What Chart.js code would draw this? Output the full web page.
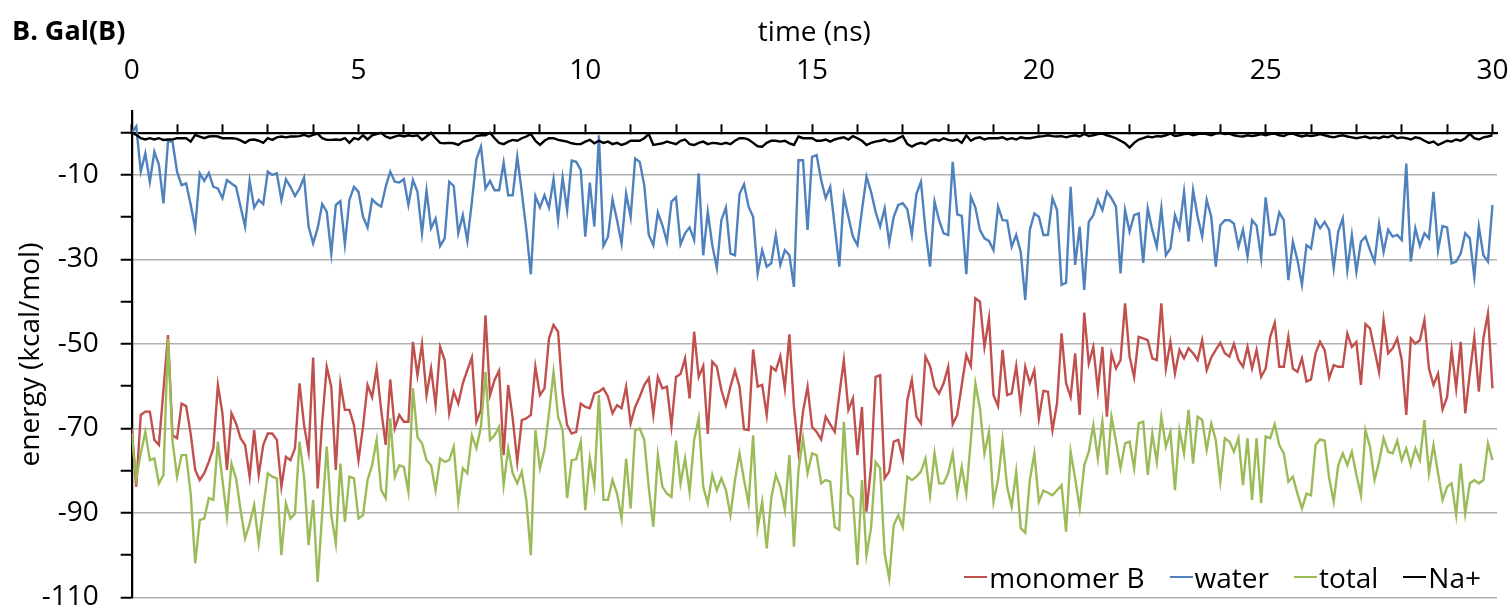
<!DOCTYPE html>
<html>
<head>
<meta charset="utf-8">
<script src="https://cdn.jsdelivr.net/npm/chart.js@4.4.1/dist/chart.umd.min.js"></script>
<style>
  html, body { margin: 0; padding: 0; background: #fff; }
  #box { position: relative; width: 1512px; height: 609px; font-family: 'Open Sans', sans-serif; color: #000; }
  #panel { position: absolute; left: 12px; top: 16px; font-size: 27px; font-weight: bold; line-height: 27px; }
  #legend { position: absolute; right: 31px; top: 560px; display: flex; font-size: 28px; line-height: 34px; background: #fff; }
  #legend .item { display: flex; align-items: center; margin-left: 25px; }
  #legend .swatch { display: inline-block; width: 23px; height: 2.5px; margin-right: 2px; }
</style>
</head>
<body>
<div id="box">
  <canvas id="myChart"></canvas>
  <div id="panel">B. Gal(B)</div>
  <div id="legend"></div>
</div>
<script>
// time axis, one point every 0.1 ns
const times = [];
for (let i = 0; i <= 300; i++) times.push(i / 10);

const monomerB = [
  -70, -83.8, -66.8, -66, -66, -72.7, -73.9, -60.9, -47.9, -71.6,
  -72.3, -64.1, -64.7, -71.2, -79.8, -82.2, -80.6, -77.9, -74.7, -59.7,
  -66.4, -79.8, -66.4, -68.8, -72.3, -73.9, -81.4, -70.4, -81, -73.9,
  -71.2, -71.2, -72.7, -83.8, -76.7, -77.5, -74.7, -59.3, -69.2, -75.5,
  -53.2, -84.2, -68.4, -55.4, -60.1, -79.8, -59.3, -65.6, -65.6, -69.2,
  -77.5, -69.6, -59.7, -62.6, -55.8, -65.6, -73.9, -58.4, -70, -66.8,
  -68.4, -68.4, -49.5, -57.4, -50, -62.1, -55.8, -64.5, -50.7, -53.8,
  -66.4, -61.3, -64.1, -59.3, -56.2, -53.2, -68.4, -65.6, -43.2, -62.1,
  -58.5, -56.3, -76.3, -59.7, -67.6, -77.9, -68, -67.6, -66.8, -55.4,
  -62.1, -60.5, -48.7, -45.5, -47.1, -61.7, -69.2, -71.2, -70.8, -64.1,
  -64.9, -65.2, -61.7, -61.3, -60.5, -62.5, -66.4, -64.5, -65.2, -60.1,
  -68.8, -64.9, -62.5, -59.7, -58.1, -66.8, -57.8, -60.5, -60.1, -69.4,
  -57.8, -57.1, -53.4, -62.9, -47.1, -57.8, -55.2, -71.3, -54.2, -55.4,
  -60.9, -64.5, -60.1, -56.3, -60.1, -70.2, -70.4, -51.3, -60.1, -59.7,
  -66.8, -55.4, -56.3, -52.9, -60.5, -47.7, -64.9, -75.5, -66, -60.1,
  -69.6, -70.8, -72.6, -67.2, -69, -70.8, -62, -53.8, -65.6, -62.9,
  -76.3, -64.9, -89.7, -79.1, -57.8, -57.4, -81.8, -80.2, -73.1, -72.7,
  -77.1, -63.3, -58.5, -67.2, -68.8, -53, -55.2, -60.1, -61.7, -59.3,
  -55.4, -69, -66.8, -59.7, -52.6, -55.2, -39.2, -40, -50.7, -43.9,
  -62.1, -64.7, -51.4, -62.1, -61.7, -55.2, -65, -55.4, -59.3, -56.2,
  -67.6, -61.1, -61.3, -70.4, -64.1, -47.5, -59.3, -62.5, -52.2, -66.8,
  -42.6, -54.6, -50.7, -60.9, -50.7, -67.2, -52.2, -55.8, -53.8, -40.4,
  -53, -57.8, -48.3, -48.7, -49.1, -53.4, -53.8, -40.4, -55.8, -49.5,
  -57, -51.4, -53.4, -51, -52.2, -53.8, -49.1, -56.2, -53.2, -51.4,
  -49.7, -52.2, -53, -50, -53.8, -55.4, -50.7, -55.8, -51.4, -57.8,
  -55.8, -48.3, -45, -55.4, -55.4, -48.3, -55.8, -56.6, -53.4, -58.9,
  -58.4, -52.2, -49.5, -51.4, -58.1, -55, -55.4, -55.4, -47.5, -50.7,
  -49.5, -59.7, -45.3, -46.3, -51.4, -56.6, -44.3, -52.2, -51, -48.7,
  -53.8, -66.8, -48.7, -49.9, -49.1, -44.3, -55.8, -59.7, -57, -65.5,
  -62.6, -51.4, -60.5, -49.5, -66.4, -57, -48.4, -61.3, -48.7, -42.8,
  -60.5
];

const water = [
  0, 1.5, -9.2, -4.9, -11.6, -4.5, -7.6, -16.7, -2.1, -2.1,
  -9.2, -12.4, -12, -17, -22.6, -9.6, -11.4, -9.5, -12.8, -13.2,
  -15.5, -11.2, -12, -12.8, -17.5, -22.2, -11.4, -17.7, -15.9, -16.9,
  -9.2, -10, -9.6, -15.9, -11, -12.8, -15, -13.2, -10.6, -22.2,
  -26.2, -22.6, -16.9, -18.7, -28.6, -17.1, -16.2, -26.4, -15.9, -12.8,
  -14, -19.9, -22.4, -15.8, -16.8, -17.5, -12.8, -9.2, -11.6, -11.8,
  -11, -17.1, -11.2, -14, -23.8, -13.7, -22.6, -20.3, -26.8, -25,
  -11.6, -12.6, -23.8, -19.5, -25.6, -16.3, -6.3, -3.3, -13.2, -11.4,
  -13.6, -13.6, -7.1, -14.8, -14.8, -5.7, -14, -23, -33.5, -15,
  -17.7, -14.8, -17.7, -11, -20.7, -10.6, -18.3, -6.6, -6.9, -8.8,
  -24.6, -11.8, -22.2, -0.6, -26.8, -24.6, -15.8, -20.7, -26.2, -14.4,
  -20, -6.1, -6.9, -12.4, -24.2, -26.6, -18.9, -21.9, -25.8, -16.3,
  -15.3, -26.4, -23.8, -22.4, -25.4, -9.6, -29, -18.7, -26.6, -32,
  -20.7, -17.7, -28.6, -29, -14.5, -12.2, -17.5, -19.9, -33.3, -27.8,
  -31.7, -30.9, -24.2, -31.3, -27.8, -29, -36.5, -6.5, -6.5, -23,
  -5.7, -5.3, -11.2, -15.5, -12.8, -22.2, -31.7, -15, -19.9, -24.6,
  -26.6, -18.3, -10.4, -14, -18.7, -22.2, -17.9, -26, -19.9, -17.1,
  -16.7, -18.1, -24.2, -14.5, -11.6, -23, -31.7, -16.3, -20.7, -23.8,
  -24.2, -6.9, -19.3, -19.7, -33.5, -15.1, -17.7, -23, -25, -25.6,
  -27.8, -17.5, -20.7, -20.8, -27, -24.2, -28.2, -39.6, -23, -19.1,
  -19.9, -24.2, -24.2, -15.5, -18.3, -36, -35.5, -12.8, -31.3, -22.2,
  -37.2, -21.1, -19.5, -15.9, -18.3, -14, -15.5, -17.5, -33.3, -18.3,
  -23.4, -19.5, -19.1, -30.8, -17.9, -23, -27, -17.9, -29, -27.4,
  -19.5, -22.6, -14, -25.8, -13.6, -19.9, -24.6, -15.9, -19.9, -31.7,
  -21.9, -20.7, -20.7, -21.5, -27, -23, -29.3, -20.7, -22, -29.7,
  -15.3, -24.2, -24, -18.9, -20.7, -34.9, -25.8, -30.1, -36, -26.6,
  -27.4, -20.7, -22.6, -21.1, -23, -32.1, -23.4, -20.3, -32.5, -24.2,
  -32.9, -25.8, -24.6, -27.8, -30.5, -21.6, -28.2, -23, -24.6, -24.2,
  -25.4, -7.3, -30.5, -22.6, -26.8, -23.8, -25, -14, -27.8, -22.1,
  -22.4, -30.9, -30.5, -28.6, -23.8, -25, -34.1, -22.2, -29, -30.5,
  -17.1
];

const total = [
  -71.2, -81.8, -75.9, -70.8, -77.5, -77.1, -83, -81, -48.7, -73.1,
  -81.4, -76.3, -76.3, -85.4, -101.9, -91.7, -91.3, -86.5, -86.9, -73.1,
  -82.2, -90.9, -78.3, -81.8, -89.3, -96, -92.5, -88.1, -97.2, -88.9,
  -80.6, -81.4, -81.8, -100, -87.7, -91.3, -90.1, -73.1, -81.4, -97.6,
  -86.9, -106.3, -90.1, -74.3, -90.5, -97.2, -78.3, -92.1, -81.4, -81.8,
  -91.3, -90.5, -82.2, -78.7, -72.7, -84.6, -86.5, -67.6, -81.4, -78.7,
  -79.1, -85, -60.5, -72, -73.5, -77.5, -78.7, -84.6, -77.1, -77.9,
  -77.5, -74.3, -87.3, -79.4, -80.6, -71.6, -74.7, -69.6, -56.6, -72.7,
  -71.6, -69.6, -83.4, -74.7, -80.6, -83, -80.2, -86.9, -100, -70.4,
  -79.4, -75.1, -66.4, -56.6, -67.2, -70.4, -86.5, -77.5, -77.3, -73.1,
  -89.3, -77.1, -83.4, -62.1, -86.9, -86.9, -82.2, -85.4, -91.3, -77.1,
  -88.9, -70.4, -70, -72.7, -84, -93.3, -76.3, -83.8, -85.4, -86.2,
  -72.9, -83, -77.1, -85, -72.7, -67.6, -83.8, -87.7, -81, -84.6,
  -81.8, -84.6, -90.5, -82.2, -75.9, -82.2, -87.7, -71.6, -93.6, -87.3,
  -98.4, -86.5, -81, -83.8, -89.3, -76.3, -98, -79.8, -72.3, -80.6,
  -75.9, -76.3, -83, -82.2, -82.6, -93.3, -94, -68.4, -85.4, -86.5,
  -102.3, -82.2, -100, -93.6, -77.9, -79.4, -99.6, -105.5, -92.9, -90.5,
  -93.3, -81.4, -82.2, -81.4, -80.2, -77.1, -85.8, -75.9, -83, -83,
  -80.6, -75.9, -85.4, -79.1, -85.4, -72.7, -59.3, -65.2, -75.9, -70.8,
  -87.3, -82.2, -72.7, -83.8, -88.5, -80.2, -93.6, -94.7, -82.2, -75.9,
  -87.3, -84.7, -85.2, -85.8, -84.6, -83.4, -94.4, -75.5, -81.8, -88.9,
  -78.7, -75.5, -69.2, -77.1, -68.4, -81, -67.2, -73.1, -79.4, -73.5,
  -73.1, -79.4, -68.8, -68.4, -81, -71.2, -77.9, -67.2, -74.3, -70.8,
  -84.6, -70.4, -75.9, -65.6, -78.3, -67.2, -68, -75.1, -68.8, -72.7,
  -82.6, -72.3, -73.1, -75.5, -72.3, -83.4, -72.3, -86.9, -72.3, -87.7,
  -71.9, -72.3, -69, -73.9, -75.9, -82.6, -81.4, -85.4, -88.9, -85.4,
  -85.8, -73.9, -72.6, -72.9, -81.8, -87.3, -78.7, -75.9, -78.7, -75.5,
  -81, -85.8, -70.4, -74.3, -82.2, -77.9, -72.3, -75.5, -75.9, -72.9,
  -77.5, -74.7, -78.7, -74.7, -77.5, -68, -80.6, -73.9, -80.6, -86.9,
  -83.8, -83, -90.5, -78.3, -90.1, -83, -82.2, -83, -82.2, -73.5,
  -77.5
];

const sodium = [
  0, -0.5, -1.3, -1.6, -1.3, -1.6, -1.3, -1.7, -1.6, -1.6,
  -1.3, -1.3, -1.3, -2.1, -0.5, -0.9, -1.3, -0.9, -0.8, -0.9,
  -1.3, -1.3, -1.3, -1.4, -1.8, -2.4, -1.7, -1.6, -1.9, -2.4,
  -1.3, -1.7, -1.1, -0.9, -1.1, -0.9, -0.9, -0.8, -0.5, -0.9,
  -0.5, -0.2, -1.3, -1.7, -1.7, -1.6, -1.7, -1.3, -2.4, -1.3,
  -1.6, -0.6, -1.6, -0.6, -0.3, 0, -0.9, -1.3, -0.9, -0.6,
  -0.9, -0.6, -0.8, -0.6, -1.7, -0.9, 0, -1.3, -2.4, -2.5,
  -2.4, -2.5, -2.9, -2.1, -1.9, -1.6, -0.8, -0.6, -0.6, 0,
  -1.3, -2.4, -2.7, -2.1, -1.7, -1.9, -1.3, -0.9, -0.3, -1.9,
  -2.9, -1.9, -1.3, -1.3, -1.7, -1.9, -2.1, -2.5, -2.7, -2.7,
  -2.1, -1.7, -2.5, -1.9, -2.4, -2.1, -2.7, -2.4, -2.9, -2.5,
  -1.9, -1.9, -1.9, -1.3, -0.3, -2.9, -2.7, -2.5, -2.1, -2.4,
  -2.7, -1.9, -1.6, -2.7, -2.9, -2.4, -2.1, -2.7, -2.4, -2.5,
  -2.7, -2.4, -2.7, -1.9, -1.3, -1.3, -1.6, -2.4, -3.2, -3.3,
  -2.4, -1.9, -1.9, -2.1, -1.9, -2.5, -2.9, -0.9, -1.3, -1.3,
  -1.3, -1.9, -1.9, -1.6, -2.1, -1.6, -1.3, -1.1, -1.6, -0.8,
  -1.3, -1.9, -2.9, -2.4, -2.1, -1.9, -1.6, -2.1, -1.9, -1.3,
  -0.8, -2.7, -3.3, -2.7, -2.4, -2.7, -1.9, -1.6, -1.9, -1.3,
  -1.7, -1.9, -1.6, -2.4, -0.6, -1.9, -1.3, -1.1, -1.6, -1.3,
  -1.3, -1.3, -1.1, -1.6, -1.3, -1.6, -1.1, -1.3, -1.3, -1.1,
  -0.9, -0.8, -0.6, -0.8, -0.9, -0.8, -1.1, -0.8, -0.6, -0.9,
  -0.3, -0.8, -0.6, -0.3, -0.2, -0.6, -0.9, -1.3, -1.9, -2.5,
  -3.5, -2.4, -1.6, -1.3, -0.9, -1.1, -0.8, -0.9, -0.6, -0.2,
  -0.8, -0.6, -0.3, -0.2, -0.6, -0.3, -0.2, -0.3, -0.6, -0.2,
  0, -0.3, -0.2, -0.6, -0.8, -0.9, -0.6, -0.8, -0.6, -0.3,
  -0.6, -0.3, -0.2, -0.6, -0.8, -0.3, -0.2, -0.6, -0.9, -0.6,
  -0.8, -0.6, -0.3, -0.6, -0.9, -1.1, -0.8, -0.6, -0.9, -1.1,
  -1.3, -1.1, -0.9, -1.3, -1.1, -1.3, -0.9, -1.1, -0.6, -1.3,
  -1.1, -1.3, -1.6, -1.1, -1.3, -1.9, -2.4, -2.1, -2.9, -2.4,
  -1.9, -2.1, -1.6, -1.9, -1.3, -0.3, -1.3, -1.6, -1.1, -0.9,
  -0.6
];

const seriesNames = ['monomer B', 'water', 'total', 'Na+'];
const seriesColors = ['#c0504d', '#4f81bd', '#9bbb59', '#000000'];
const xTicks = [];
for (let v = 0; v <= 30; v++) xTicks.push(v);
const yTicks = [-110, -100, -90, -80, -70, -60, -50, -40, -30, -20, -10, 0];
const yLabelled = [-10, -30, -50, -70, -90, -110];

Chart.defaults.font.family = "'Open Sans', sans-serif";
Chart.defaults.font.size = 28;
Chart.defaults.color = '#000';

const config = {
  type: 'line',
  data: {
    labels: times,
    datasets: [monomerB, water, total, sodium].map((values, k) => ({
      label: seriesNames[k],
      data: values,
      borderColor: seriesColors[k],
      backgroundColor: seriesColors[k],
      borderWidth: 2.4,
      pointRadius: 0,
      tension: 0,
      order: 4 - k
    }))
  },
  options: {
    responsive: true,
    maintainAspectRatio: false,
    animation: false,
    layout: { padding: { left: 0, top: 0, right: 15, bottom: 11.5 } },
    plugins: {
      legend: { display: false },
      tooltip: { enabled: false }
    },
    scales: {
      // labels and title of the time axis
      x: {
        type: 'linear',
        position: 'top',
        min: 0,
        max: 30.1,
        afterBuildTicks: (scale) => {
          scale.ticks = xTicks.map(v => ({ value: v }));
        },
        afterFit: (scale) => {
          scale.height = 111.6;
          scale.paddingLeft = 0;
          scale.paddingRight = 0;
        },
        ticks: {
          autoSkip: false,
          maxRotation: 0,
          padding: 24,
          callback: v => (v % 5 === 0 ? String(v) : '')
        },
        grid: { display: false, drawTicks: false },
        border: { display: false },
        title: { display: true, text: 'time (ns)', padding: { top: 16, bottom: 0 } }
      },
      // the axis line itself, crossing at energy 0
      x2: {
        type: 'linear',
        position: { y: 0 },
        min: 0,
        max: 30.1,
        afterBuildTicks: (scale) => {
          scale.ticks = xTicks.map(v => ({ value: v }));
        },
        ticks: { display: false },
        grid: {
          drawOnChartArea: false,
          drawTicks: true,
          tickLength: -10,
          tickColor: '#000',
          tickWidth: 2
        },
        border: { color: '#000', width: 2.25 }
      },
      y: {
        min: -110,
        max: 5,
        afterBuildTicks: (scale) => {
          scale.ticks = yTicks.map(v => ({ value: v }));
        },
        afterFit: (scale) => {
          scale.width = 131.7;
          scale.paddingTop = 0;
          scale.paddingBottom = 0;
        },
        ticks: {
          autoSkip: false,
          padding: 22,
          callback: v => (yLabelled.includes(v) ? String(v) : '')
        },
        grid: {
          color: c => (c.tick && yLabelled.includes(c.tick.value) ? '#b0b0b0' : 'rgba(0,0,0,0)'),
          lineWidth: 1.5,
          tickLength: 11,
          tickColor: '#000',
          tickWidth: 2
        },
        border: { color: '#000', width: 2.25 },
        title: { display: true, text: 'energy (kcal/mol)', padding: { top: 14, bottom: 0 } }
      }
    }
  }
};

const ctx = document.getElementById('myChart');
const myChart = new Chart(ctx, config);

// legend drawn as html from the datasets
const legendBox = document.getElementById('legend');
myChart.data.datasets.forEach(ds => {
  const item = document.createElement('span');
  item.className = 'item';
  const swatch = document.createElement('span');
  swatch.className = 'swatch';
  swatch.style.background = ds.borderColor;
  item.appendChild(swatch);
  item.appendChild(document.createTextNode(ds.label));
  legendBox.appendChild(item);
});
</script>
</body>
</html>
